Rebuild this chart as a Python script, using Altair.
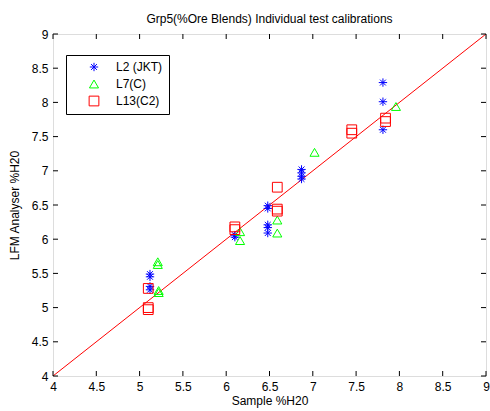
import altair as alt
import pandas as pd

# ---- data ----
l2_x = [5.12, 5.12, 5.12, 5.12, 6.10, 6.10, 6.48, 6.48, 6.48, 6.48, 6.48,
        6.87, 6.87, 6.87, 6.87, 7.81, 7.81, 7.81]
l2_y = [5.49, 5.45, 5.31, 5.26, 6.06, 6.03, 6.49, 6.45, 6.21, 6.17, 6.09,
        7.02, 6.97, 6.92, 6.88, 8.29, 8.01, 7.60]

l7_x = [5.21, 5.21, 5.22, 5.22, 6.16, 6.16, 6.59, 6.59, 7.02, 7.96]
l7_y = [5.67, 5.63, 5.25, 5.22, 6.11, 5.98, 6.28, 6.09, 7.27, 7.94]

l13_x = [5.10, 5.10, 5.10, 6.10, 6.10, 6.59, 6.59, 6.59, 7.45, 7.45, 7.84, 7.84]
l13_y = [5.28, 5.00, 4.97, 6.18, 6.14, 6.76, 6.44, 6.41, 7.60, 7.55, 7.77, 7.72]

series_names = ["L2 (JKT)", "L7(C)", "L13(C2)"]
series_colors = ["#0000FF", "#00FF00", "#FF0000"]
ref_line = [4, 9]
ticks = [4, 4.5, 5, 5.5, 6, 6.5, 7, 7.5, 8, 8.5, 9]

title = "Grp5(%Ore Blends) Individual test calibrations"
x_title = "Sample %H20"
y_title = "LFM Analyser %H20"

FONT = "Liberation Sans"
FS = 12
STAR = "M-1,0L1,0M0,-1L0,1M-0.7,-0.7L0.7,0.7M-0.7,0.7L0.7,-0.7"

rows = []
for name, xs_, ys_ in [(series_names[0], l2_x, l2_y),
                       (series_names[1], l7_x, l7_y),
                       (series_names[2], l13_x, l13_y)]:
    for a, b in zip(xs_, ys_):
        rows.append({"x": a, "y": b, "series": name})
pts = pd.DataFrame(rows)
line_df = pd.DataFrame({"x": ref_line, "y": ref_line})
tick_df = pd.DataFrame({"t": ticks})

W, H = 433, 342
xs = alt.Scale(domain=[4, 9], nice=False, zero=False)
ys = alt.Scale(domain=[4, 9], nice=False, zero=False)

xaxis = alt.Axis(values=ticks, format="~g", ticks=False, grid=False, domain=False,
                 labelFont=FONT, labelFontSize=FS, labelColor="black",
                 labelPadding=5, labelFlush=False, labelOverlap=False,
                 title=x_title, titleFont=FONT, titleFontSize=FS,
                 titleFontWeight="normal", titleColor="black", titlePadding=3)
yaxis = alt.Axis(values=ticks, format="~g", ticks=False, grid=False, domain=False,
                 labelFont=FONT, labelFontSize=FS, labelColor="black",
                 labelPadding=5, labelFlush=False, labelOverlap=False,
                 title=y_title, titleFont=FONT, titleFontSize=FS,
                 titleFontWeight="normal", titleColor="black", titlePadding=10)

line = alt.Chart(line_df).mark_line(color="#FF0000", strokeWidth=1, clip=True).encode(
    x=alt.X("x:Q", scale=xs, axis=xaxis),
    y=alt.Y("y:Q", scale=ys, axis=yaxis),
)

points = alt.Chart(pts).mark_point(filled=False, strokeWidth=1, opacity=1).encode(
    x=alt.X("x:Q", scale=xs, axis=xaxis),
    y=alt.Y("y:Q", scale=ys, axis=yaxis),
    color=alt.Color("series:N",
                    scale=alt.Scale(domain=series_names, range=series_colors),
                    legend=alt.Legend(title=None, orient="none", legendX=13, legendY=21,
                                      strokeColor="black", fillColor="white",
                                      padding=6, rowPadding=4, symbolOffset=16,
                                      labelFont=FONT, labelFontSize=FS,
                                      labelColor="black", labelOffset=16,
                                      symbolSize=55, symbolStrokeWidth=1,
                                      cornerRadius=0)),
    shape=alt.Shape("series:N",
                    scale=alt.Scale(domain=series_names,
                                    range=[STAR, "triangle-up", "square"]),
                    legend=None),
    size=alt.Size("series:N",
                  scale=alt.Scale(domain=series_names, range=[70, 95, 42]),
                  legend=None),
)

# inward ticks on all four sides
tb = alt.Chart(tick_df).mark_rule(color="black", strokeWidth=1)
bottom_ticks = tb.encode(x=alt.X("t:Q", scale=xs, axis=xaxis), y=alt.value(H), y2=alt.value(H - 5))
top_ticks = tb.encode(x=alt.X("t:Q", scale=xs, axis=xaxis), y=alt.value(0), y2=alt.value(5))
left_ticks = tb.encode(y=alt.Y("t:Q", scale=ys, axis=yaxis), x=alt.value(0), x2=alt.value(5))
right_ticks = tb.encode(y=alt.Y("t:Q", scale=ys, axis=yaxis), x=alt.value(W), x2=alt.value(W - 5))

chart = alt.layer(line, points, bottom_ticks, top_ticks, left_ticks, right_ticks).properties(
    width=W, height=H,
    title=alt.TitleParams(title, font=FONT, fontSize=FS, fontWeight="normal",
                          color="black", anchor="middle", offset=2),
    autosize=alt.AutoSizeParams(type="none"),
    padding={"left": 53, "top": 34, "right": 4, "bottom": 35},
).configure_view(stroke="black", strokeWidth=1).configure(background="white")

chart.save("out.html", embed_options={"renderer": "svg", "actions": False})
